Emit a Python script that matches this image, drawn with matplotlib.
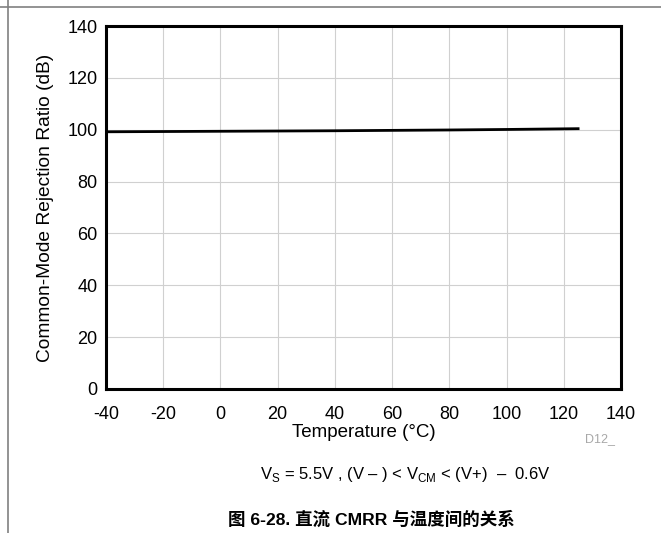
import matplotlib
matplotlib.use("Agg")
import matplotlib.pyplot as plt
from matplotlib.lines import Line2D

plt.rcParams["font.family"] = ["Liberation Sans", "Noto Sans CJK SC", "DejaVu Sans"]
plt.rcParams["mathtext.fontset"] = "custom"
plt.rcParams["mathtext.rm"] = "Liberation Sans"
plt.rcParams["axes.unicode_minus"] = False

temperature = [-40, -20, 0, 20, 40, 60, 80, 100, 125]
cmrr_db = [99.2, 99.3, 99.4, 99.5, 99.6, 99.75, 99.9, 100.1, 100.4]

x_ticks = [-40, -20, 0, 20, 40, 60, 80, 100, 120, 140]
y_ticks = [0, 20, 40, 60, 80, 100, 120, 140]


def main():
    fig = plt.figure(figsize=(6.61, 5.33), dpi=100)
    fig.patch.set_facecolor("white")
    ax = fig.add_axes([0.1604, 0.2702, 0.7791, 0.6810])

    ax.plot(temperature, cmrr_db, color="black", lw=2.0, zorder=3)
    ax.set_xlim(-40, 140)
    ax.set_ylim(0, 140)
    ax.set_xticks(x_ticks)
    ax.set_yticks(y_ticks)
    ax.grid(True, color="#d0d0d0", lw=0.8)
    ax.tick_params(length=0, labelsize=13)
    ax.tick_params(axis="x", pad=12)
    ax.tick_params(axis="y", pad=6)
    for sp in ax.spines.values():
        sp.set_linewidth(2.2)
    ax.set_xlabel("Temperature (°C)", fontsize=13.5, labelpad=1)
    ax.set_ylabel("Common-Mode Rejection Ratio (dB)", fontsize=13.8, labelpad=10)

    fig.text(600 / 661, 1 - 439 / 533, "D12_", fontsize=9, color="#a8a8a8",
             ha="center", va="center")
    fig.text(405 / 661, 1 - 474 / 533,
             r"V$_\mathregular{S}$ = 5.5V , (V – ) < V$_\mathregular{CM}$ < (V+)  –  0.6V",
             fontsize=12, ha="center", va="center")
    fig.text(371 / 661, 1 - 519 / 533, "图 6-28. 直流 CMRR 与温度间的关系",
             fontsize=12.6, fontweight="bold", ha="center", va="center")

    fig.add_artist(Line2D([0, 1], [1 - 7 / 533, 1 - 7 / 533], color="#808080", lw=1.2,
                          transform=fig.transFigure))
    fig.add_artist(Line2D([8 / 661, 8 / 661], [0, 1], color="#808080", lw=1.2,
                          transform=fig.transFigure))

    fig.savefig("out.png", dpi=100)


if __name__ == "__main__":
    main()
